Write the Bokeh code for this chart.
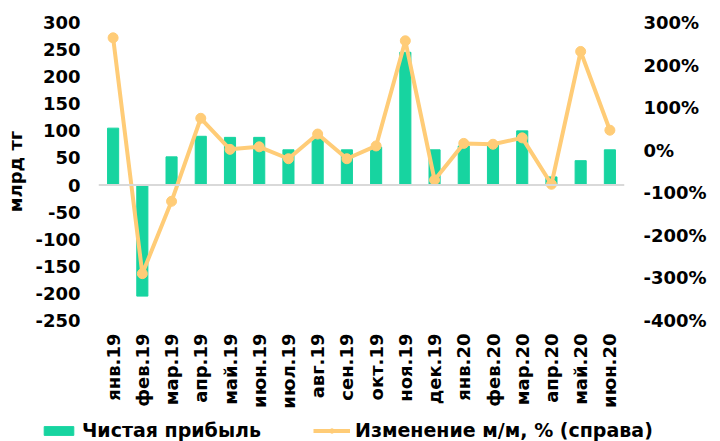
from bokeh.plotting import figure
from bokeh.layouts import column
from bokeh.models import (LinearAxis, Range1d, FactorRange, FixedTicker, PrintfTickFormatter,
                          Span, Legend, LegendItem, ColumnDataSource)
from bokeh.embed import file_html
from bokeh.resources import INLINE
import math

categories = ["янв.19", "фев.19", "мар.19", "апр.19", "май.19", "июн.19", "июл.19", "авг.19",
              "сен.19", "окт.19", "ноя.19", "дек.19", "янв.20", "фев.20", "мар.20", "апр.20",
              "май.20", "июн.20"]
net_profit = [105, -205, 52, 90, 88, 88, 65, 86, 65, 70, 245, 65, 72, 74, 100, 15, 45, 65]
change_mm = [264, -290, -120, 75, 2, 8, -20, 38, -20, 10, 257, -70, 16, 14, 29, -80, 232, 47]

left_ticks = list(range(-250, 301, 50))
right_ticks = list(range(-400, 301, 100))
series_names = ["Чистая прибыль", "Изменение м/м, % (справа)"]

FONT = "DejaVu Sans"
BAR_COLOR = "#17D4A0"
LINE_COLOR = "#FFCC77"

src = ColumnDataSource(dict(cat=categories, bar=net_profit, pct=change_mm))

p = figure(width=712, height=412, x_range=FactorRange(*categories), y_range=Range1d(-250, 300),
           output_backend="svg", toolbar_location=None,
           min_border_left=98, min_border_right=88, min_border_top=22, min_border_bottom=92)
p.frame_align = False
p.outline_line_color = None
p.xgrid.visible = False
p.ygrid.visible = False
p.x_range.range_padding = 0

p.extra_y_ranges = {"pct": Range1d(-400, 300)}

p.vbar(x="cat", top="bar", width=0.38, color=BAR_COLOR, source=src)
p.add_layout(Span(location=0, dimension="width", line_color="#D9D9D9", line_width=2))
p.line(x="cat", y="pct", y_range_name="pct", line_color=LINE_COLOR, line_width=4, source=src)
p.scatter(x="cat", y="pct", y_range_name="pct", size=10, color=LINE_COLOR, source=src)

def style_axis(ax, size="18px"):
    ax.axis_line_color = None
    ax.major_tick_line_color = None
    ax.minor_tick_line_color = None
    ax.major_tick_out = 0
    ax.major_tick_in = 0
    ax.major_label_text_font = FONT
    ax.major_label_text_font_style = "bold"
    ax.major_label_text_font_size = size
    ax.major_label_text_color = "#000000"

ya = p.yaxis[0]
style_axis(ya)
ya.ticker = FixedTicker(ticks=left_ticks)
ya.formatter = PrintfTickFormatter(format="%d")
ya.major_label_standoff = 18
ya.axis_label = "млрд тг"
ya.axis_label_text_font = FONT
ya.axis_label_text_font_style = "bold"
ya.axis_label_text_font_size = "18px"
ya.axis_label_text_color = "#000000"
ya.axis_label_standoff = 6

ra = LinearAxis(y_range_name="pct", ticker=FixedTicker(ticks=right_ticks),
                formatter=PrintfTickFormatter(format="%d%%"))
style_axis(ra)
ra.major_label_standoff = 19
p.add_layout(ra, "right")

xa = p.xaxis[0]
style_axis(xa, "18px")
xa.major_label_orientation = math.pi / 2
xa.major_label_standoff = 13

# legend strip (its glyphs use the real data but lie outside its visible range)
lg = figure(width=712, height=29, x_range=FactorRange(*categories), y_range=Range1d(1000, 1001),
            output_backend="svg", toolbar_location=None, x_axis_location=None, y_axis_location=None,
            min_border=0, min_border_left=0, min_border_right=0, min_border_top=0, min_border_bottom=0)
lg.frame_align = False
lg.outline_line_color = None
lg.xgrid.visible = False
lg.ygrid.visible = False
lr_bar = lg.vbar(x="cat", top="bar", width=0.38, color=BAR_COLOR, source=src)
lr_line = lg.line(x="cat", y="pct", line_color=LINE_COLOR, line_width=4, source=src)
lr_pts = lg.scatter(x="cat", y="pct", size=10, color=LINE_COLOR, source=src)

legend = Legend(items=[LegendItem(label=series_names[0], renderers=[lr_bar]),
                       LegendItem(label=series_names[1], renderers=[lr_line, lr_pts])],
                orientation="horizontal", location=(40, 0))
legend.label_text_font = FONT
legend.label_text_font_style = "bold"
legend.label_text_font_size = "19px"
legend.label_text_color = "#000000"
legend.border_line_color = None
legend.background_fill_alpha = 0
legend.glyph_width = 37
legend.glyph_height = 11
legend.spacing = 52
legend.padding = 2
legend.margin = 0
legend.label_standoff = 5
lg.add_layout(legend)

layout = column(p, lg, spacing=0)
open("out.html", "w").write(file_html(layout, INLINE))
